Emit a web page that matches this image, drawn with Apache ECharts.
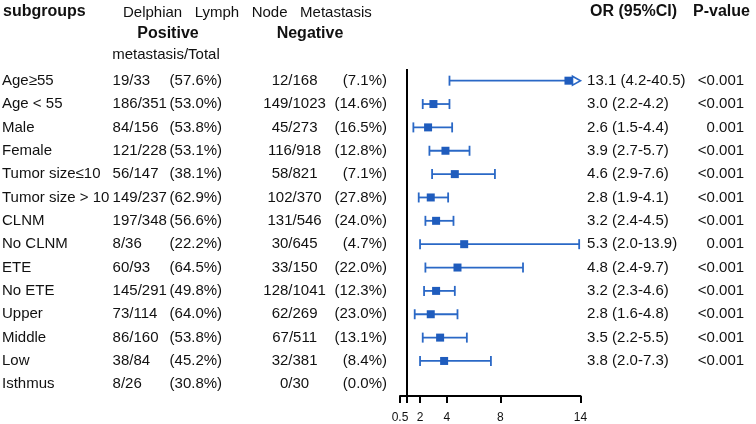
<!DOCTYPE html>
<html>
<head>
<meta charset="utf-8">
<script src="https://cdn.jsdelivr.net/npm/echarts@6/dist/echarts.min.js"></script>
<style>
  html, body { margin: 0; padding: 0; background: #fff; }
  #chart { width: 756px; height: 424px; }
</style>
</head>
<body>
<div id="chart"></div>
<script>
// table data
const subgroups = ['Age≥55', 'Age < 55', 'Male', 'Female', 'Tumor size≤10', 'Tumor size > 10', 'CLNM', 'No CLNM', 'ETE', 'No ETE', 'Upper', 'Middle', 'Low', 'Isthmus'];
const posCount = ['19/33', '186/351', '84/156', '121/228', '56/147', '149/237', '197/348', '8/36', '60/93', '145/291', '73/114', '86/160', '38/84', '8/26'];
const posPct = ['(57.6%)', '(53.0%)', '(53.8%)', '(53.1%)', '(38.1%)', '(62.9%)', '(56.6%)', '(22.2%)', '(64.5%)', '(49.8%)', '(64.0%)', '(53.8%)', '(45.2%)', '(30.8%)'];
const negCount = ['12/168', '149/1023', '45/273', '116/918', '58/821', '102/370', '131/546', '30/645', '33/150', '128/1041', '62/269', '67/511', '32/381', '0/30'];
const negPct = ['(7.1%)', '(14.6%)', '(16.5%)', '(12.8%)', '(7.1%)', '(27.8%)', '(24.0%)', '(4.7%)', '(22.0%)', '(12.3%)', '(23.0%)', '(13.1%)', '(8.4%)', '(0.0%)'];
// odds ratios and 95% CI
const orValue = [13.1, 3.0, 2.6, 3.9, 4.6, 2.8, 3.2, 5.3, 4.8, 3.2, 2.8, 3.5, 3.8, null];
const ciLow = [4.2, 2.2, 1.5, 2.7, 2.9, 1.9, 2.4, 2.0, 2.4, 2.3, 1.6, 2.2, 2.0, null];
const ciHigh = [40.5, 4.2, 4.4, 5.7, 7.6, 4.1, 4.5, 13.9, 9.7, 4.6, 4.8, 5.5, 7.3, null];
const pValue = ['<0.001', '<0.001', '0.001', '<0.001', '<0.001', '<0.001', '<0.001', '0.001', '<0.001', '<0.001', '<0.001', '<0.001', '<0.001', ''];
// x axis
const xMin = 0.5, xMax = 14;
const xTicks = [0.5, 2, 4, 8, 14];
const refLine = 1;

const FONT = 'Liberation Sans, Arial, sans-serif';
const TEXT = '#111';
const BLUE = '#1f5cbd';
const BLUE_LINE = '#2a68c6';

const fmt1 = v => v.toFixed(1);
const orText = orValue.map((v, i) => v == null ? '' : fmt1(v) + ' (' + fmt1(ciLow[i]) + '-' + fmt1(ciHigh[i]) + ')');

// one category axis per table column
function column(position, align, margin, texts) {
  return {
    type: 'category',
    inverse: true,
    data: subgroups,
    position: position,
    axisLine: { show: false },
    axisTick: { show: false },
    splitLine: { show: false },
    axisLabel: {
      interval: 0,
      align: align,
      margin: margin,
      color: TEXT,
      fontSize: 15,
      fontFamily: FONT,
      formatter: (v, i) => texts[i]
    }
  };
}

const forestData = orValue.map((v, i) => [i, v, ciLow[i], ciHigh[i]]).filter(d => d[1] != null);

var myChart = echarts.init(document.getElementById('chart'));
var option = {
  animation: false,
  grid: { left: 400, right: 175.5, top: 69, bottom: 28, outerBoundsMode: 'none' },
  xAxis: {
    type: 'value',
    min: xMin,
    max: xMax,
    axisLine: { show: true, lineStyle: { color: '#000', width: 2 } },
    axisTick: { show: true, length: 7, lineStyle: { color: '#000', width: 2 }, customValues: [0.5, refLine, 2, 4, 8, 14] },
    axisLabel: { color: TEXT, fontSize: 12, fontFamily: FONT, margin: 16, customValues: xTicks },
    splitLine: { show: false }
  },
  yAxis: [
    column('left', 'left', 398, subgroups),
    column('left', 'left', 287.4, posCount),
    column('left', 'right', 177.9, posPct),
    column('left', 'center', 105.4, negCount),
    column('left', 'right', 13, negPct),
    column('right', 'left', 6.6, orText),
    column('right', 'right', 163.6, pValue)
  ],
  graphic: [
    { type: 'text', left: 3, top: 4, style: { text: 'subgroups', font: 'bold 16px ' + FONT, fill: TEXT } },
    { type: 'text', left: 123, top: 5, style: { text: 'Delphian   Lymph   Node   Metastasis', font: '15px ' + FONT, fill: TEXT } },
    { type: 'text', x: 168, y: 34, style: { text: 'Positive', font: 'bold 16px ' + FONT, fill: TEXT, align: 'center', verticalAlign: 'middle' } },
    { type: 'text', x: 310, y: 34, style: { text: 'Negative', font: 'bold 16px ' + FONT, fill: TEXT, align: 'center', verticalAlign: 'middle' } },
    { type: 'text', x: 166, y: 55, style: { text: 'metastasis/Total', font: '15px ' + FONT, fill: TEXT, align: 'center', verticalAlign: 'middle' } },
    { type: 'text', left: 590, top: 4, style: { text: 'OR (95%CI)', font: 'bold 16px ' + FONT, fill: TEXT } },
    { type: 'text', left: 693, top: 4, style: { text: 'P-value', font: 'bold 16px ' + FONT, fill: TEXT } }
  ],
  series: [
    {
      type: 'custom',
      xAxisIndex: 0,
      yAxisIndex: 0,
      clip: false,
      encode: { x: [1, 2, 3], y: 0 },
      data: forestData,
      renderItem: function (params, api) {
        var idx = api.value(0);
        var or = api.value(1), lo = api.value(2), hi = api.value(3);
        var clipped = hi > xMax;
        var pOr = api.coord([or, idx]);
        var pLo = api.coord([lo, idx]);
        var pHi = api.coord([clipped ? xMax : hi, idx]);
        var y = pOr[1];
        var cap = 5;
        var ls = { stroke: BLUE_LINE, lineWidth: 1.8 };
        var children = [
          { type: 'line', shape: { x1: pLo[0], y1: y, x2: clipped ? pHi[0] - 8 : pHi[0], y2: y }, style: ls },
          { type: 'line', shape: { x1: pLo[0], y1: y - cap, x2: pLo[0], y2: y + cap }, style: ls }
        ];
        if (clipped) {
          children.push({
            type: 'polygon',
            shape: { points: [[pHi[0] - 8, y - 4.5], [pHi[0], y], [pHi[0] - 8, y + 4.5]] },
            style: { stroke: BLUE_LINE, lineWidth: 1.6, fill: '#fff' }
          });
        } else {
          children.push({ type: 'line', shape: { x1: pHi[0], y1: y - cap, x2: pHi[0], y2: y + cap }, style: ls });
        }
        children.push({ type: 'rect', shape: { x: pOr[0] - 4, y: y - 4, width: 8, height: 8 }, style: { fill: BLUE } });
        return { type: 'group', children: children };
      }
    },
    {
      type: 'line',
      data: [],
      markLine: {
        silent: true,
        symbol: ['none', 'none'],
        label: { show: false },
        lineStyle: { color: '#000', width: 2, type: 'solid' },
        data: [{ xAxis: refLine }]
      }
    }
  ]
};
myChart.setOption(option);
window.onresize = function () {
  myChart.resize();
};
</script>
</body>
</html>
